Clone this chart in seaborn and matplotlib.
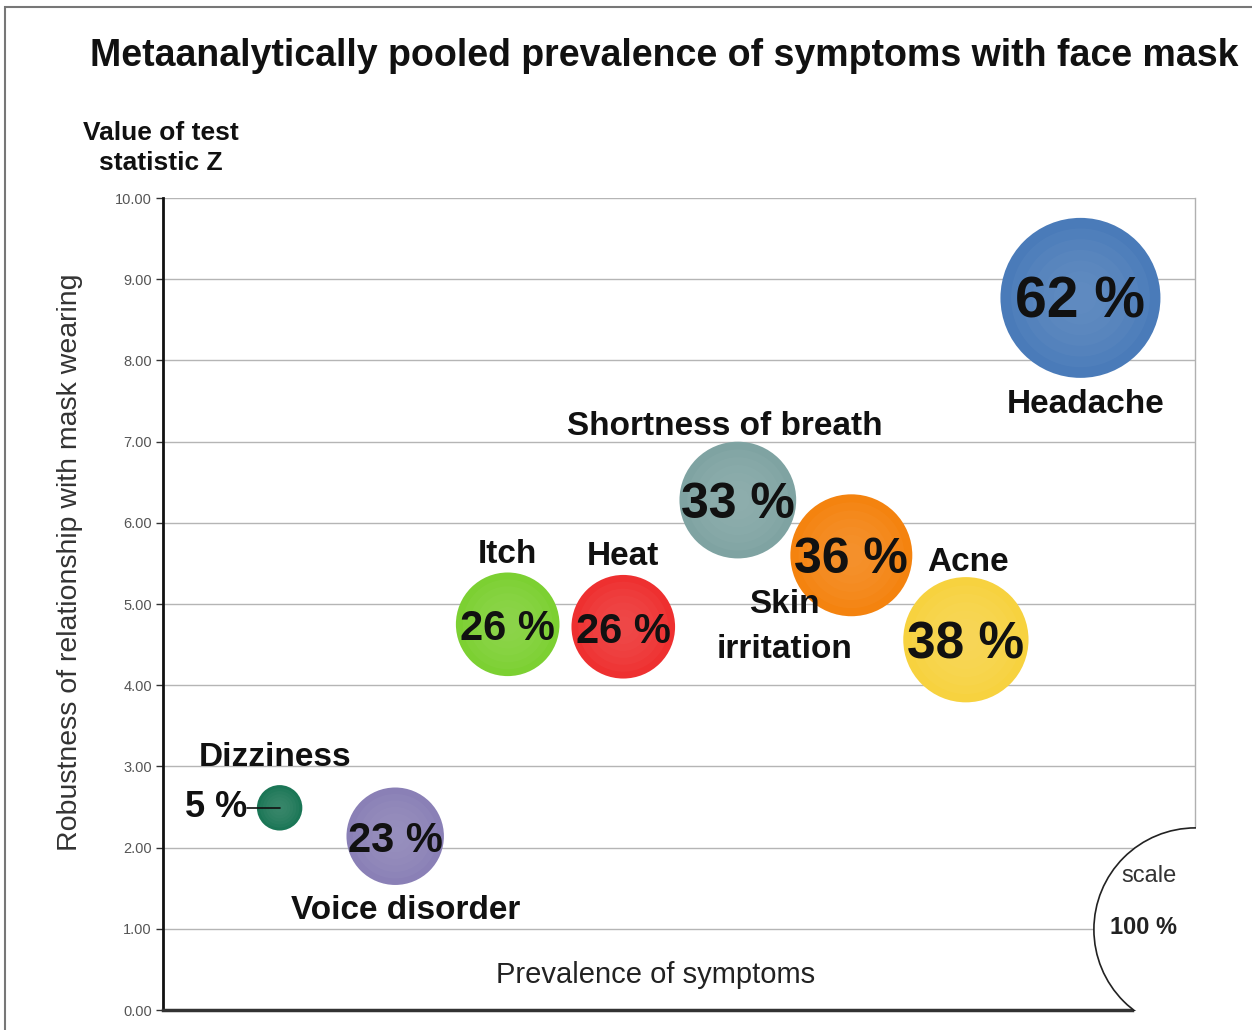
import matplotlib
matplotlib.use("Agg")
import matplotlib.pyplot as plt
import matplotlib.colors as mcolors
from matplotlib.patches import Rectangle
import numpy as np
import pandas as pd
import seaborn as sns

# Symptom bubbles: horizontal placement, pooled Z value, prevalence (%)
symptoms = ["Headache", "Shortness of breath", "Skin irritation", "Acne",
            "Itch", "Heat", "Dizziness", "Voice disorder"]
x_pos = [88.9, 55.7, 66.7, 77.8, 33.4, 44.6, 11.3, 22.5]
z_value = [8.77, 6.28, 5.60, 4.56, 4.75, 4.72, 2.49, 2.14]
prevalence = [62, 33, 36, 38, 26, 26, 5, 23]
colors = ["#4a7bb9", "#7fa3a2", "#f4830f", "#f7d23f",
          "#7cd032", "#ee3030", "#1b7656", "#8a80b6"]

y_ticks = [0, 1, 2, 3, 4, 5, 6, 7, 8, 9, 10]
scale_prevalence = 100

df = pd.DataFrame({"symptom": symptoms, "x": x_pos, "z": z_value,
                   "prev": prevalence})
palette = dict(zip(symptoms, colors))

sns.set_theme(style="white")
plt.rcParams["font.family"] = ["Liberation Sans", "DejaVu Sans"]

fig = plt.figure(figsize=(12.52, 10.30), dpi=100)
ax = fig.add_axes([163 / 1252, 20 / 1030, 1032 / 1252, 812 / 1030])

# marker area proportional to prevalence (100 % -> s_max)
s_max = (2 * 101.6 * 0.72) ** 2
size_kw = dict(size="prev", sizes=(0, s_max), size_norm=(0, 100), legend=False)

sns.scatterplot(data=df, x="x", y="z", hue="symptom", palette=palette,
                linewidth=0, ax=ax, zorder=4, **size_kw)

# soft radial highlight inside each bubble
light = {s: mcolors.to_hex(0.82 * np.array(mcolors.to_rgb(c)) + 0.18)
         for s, c in palette.items()}
for k in range(1, 7):
    frac = 1 - k / 7.5
    shade = df.copy()
    shade["prev"] = shade["prev"] * frac ** 2
    sns.scatterplot(data=shade, x="x", y="z", hue="symptom", palette=light,
                    linewidth=0, alpha=0.18, ax=ax, zorder=4, **size_kw)

# scale reference circle in the lower-right corner (clipped to the plot box)
ref = pd.DataFrame({"x": [100.0], "z": [1.0], "prev": [scale_prevalence]})
sns.scatterplot(data=ref, x="x", y="z", color="white", edgecolor="#222222",
                linewidth=1.2, ax=ax, zorder=6, clip_on=True, **size_kw)
ax.text(95.5, 1.65, "scale", fontsize=17, color="#333333",
        ha="center", va="center", zorder=7)
ax.text(95.0, 1.02, "100 %", fontsize=17, fontweight="bold", color="#222222",
        ha="center", va="center", zorder=7)

ax.set_xlim(0, 100)
ax.set_ylim(0, 10)
ax.set_xticks([])
ax.set_yticks(y_ticks)
ax.set_yticklabels([f"{v:.2f}" for v in y_ticks], fontsize=10.5, color="#555555")
ax.tick_params(axis="y", length=5, width=1, color="#333333", left=True, pad=3)
ax.grid(axis="y", color="#b5b5b5", linewidth=1)
ax.set_axisbelow(True)
ax.spines["top"].set_visible(False)
ax.spines["right"].set_color("#b0b0b0")
ax.spines["right"].set_linewidth(1)
ax.spines["right"].set_bounds(2.26, 10)
ax.spines["left"].set_color("#111111")
ax.spines["left"].set_linewidth(2)
ax.spines["bottom"].set_color("#333333")
ax.spines["bottom"].set_linewidth(2.5)
ax.spines["bottom"].set_bounds(0, 93.9)
ax.set_xlabel("")
ax.set_ylabel("")

# percentage inside bubbles
pct_size = {"Headache": 41, "Shortness of breath": 36, "Skin irritation": 36,
            "Acne": 37, "Itch": 30, "Heat": 30, "Voice disorder": 30}
for s, x, z, p in zip(symptoms, x_pos, z_value, prevalence):
    if s == "Dizziness":
        continue
    ax.text(x, z - 0.06, f"{p} %", fontsize=pct_size[s], fontweight="bold",
            color="#111111", ha="center", va="center", zorder=8)

# Dizziness value sits outside its small bubble, joined by a leader line
ax.text(5.1, 2.49, f"{prevalence[6]} %", fontsize=26, fontweight="bold",
        color="#111111", ha="center", va="center", zorder=8)
ax.plot([8.1, x_pos[6]], [z_value[6], z_value[6]], color="#111111",
        linewidth=1.2, zorder=8)

# symptom names
name_pos = {
    "Headache": (89.4, 7.46),
    "Shortness of breath": (54.4, 7.18),
    "Skin irritation": (60.2, 4.72),
    "Acne": (78.0, 5.51),
    "Itch": (33.4, 5.61),
    "Heat": (44.6, 5.58),
    "Dizziness": (10.9, 3.11),
    "Voice disorder": (23.5, 1.22),
}
name_text = {"Skin irritation": "Skin\nirritation"}
for s, (x, z) in name_pos.items():
    ax.text(x, z, name_text.get(s, s), fontsize=24, fontweight="bold",
            color="#111111", ha="center", va="center", zorder=8,
            linespacing=1.6)

ax.text(47.7, 0.43, "Prevalence of symptoms", fontsize=21,
        color="#222222", ha="center", va="center", zorder=3)

fig.text(664 / 1252, 1 - 56 / 1030,
         "Metaanalytically pooled prevalence of symptoms with face mask",
         fontsize=27, fontweight="bold", color="#111111",
         ha="center", va="center")
fig.text(161 / 1252, 1 - 148 / 1030, "Value of test\nstatistic Z",
         fontsize=19, fontweight="bold", color="#111111",
         ha="center", va="center", linespacing=1.3)
fig.text(70 / 1252, 1 - 562 / 1030,
         "Robustness of relationship with mask wearing",
         fontsize=20.5, color="#333333", rotation=90,
         ha="center", va="center")

# outer frame
fig.patches.append(Rectangle((5 / 1252, -0.1), 1.2, 1 - 7 / 1030 + 0.1,
                             transform=fig.transFigure, fill=False,
                             edgecolor="#777777", linewidth=1.5))

fig.savefig("out.png", dpi=100, facecolor="white")
